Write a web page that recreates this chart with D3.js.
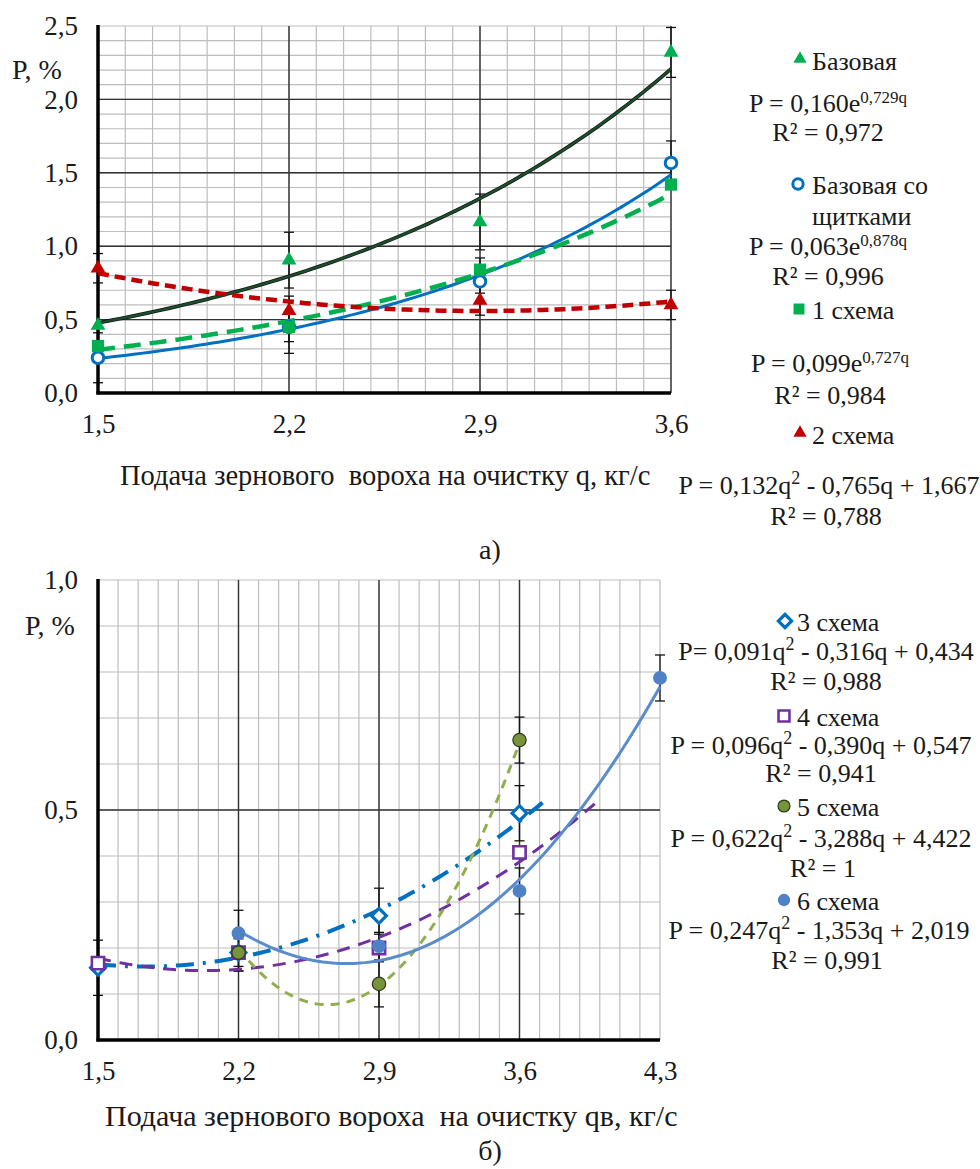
<!DOCTYPE html>
<html>
<head>
<meta charset="utf-8">
<script src="https://cdn.jsdelivr.net/npm/d3@7"></script>
<style>
  html, body { margin: 0; padding: 0; background: #fff; }
  svg, svg text { font-family: "Liberation Serif", "Times New Roman", serif; }
  svg text { fill: #1a1a1a; }
</style>
</head>
<body>
<svg id="chart" width="980" height="1169" font-family="Liberation Serif"></svg>
<script>
// ---------- Panel а): feed rate 1,5 … 3,6 kg/s ----------
const topFeed = [1.5, 2.2, 2.9, 3.6];
const topYTicks = [0, 0.5, 1.0, 1.5, 2.0, 2.5];

const baseVals    = [0.46, 0.905, 1.165, 2.32];
const shieldVals  = [0.24, 0.45, 0.76, 1.567];
const scheme1Vals = [0.32, 0.45, 0.84, 1.42];
const scheme2Vals = [0.85, 0.56, 0.63, 0.60];

const baseErr    = [0, 0.19, 0.19, 0.17];
const shieldErr  = [0.17, 0.18, 0.08, 0.15];
const scheme1Err = [0, 0.10, 0.08, 0];
const scheme2Err = [0.10, 0.10, 0.10, 0.10];

// trend equations: exponential a·e^(b·q) and quadratic a·q² + b·q + c
const baseTrend    = [0.160, 0.729];
const shieldTrend  = [0.063, 0.878];
const scheme1Trend = [0.099, 0.727];
const scheme2Trend = [0.132, -0.765, 1.667];

// ---------- Panel б): feed rate 1,5 … 4,3 kg/s ----------
const botFeed = [1.5, 2.2, 2.9, 3.6, 4.3];
const botYTicks = [0, 0.5, 1.0];

const scheme3Vals = [0.157, 0.19, 0.27, 0.493, null];
const scheme4Vals = [0.167, 0.19, 0.20, 0.408, null];
const scheme5Vals = [null, 0.19, 0.122, 0.652, null];
const scheme6Vals = [null, 0.232, 0.204, 0.324, 0.787];

const scheme3Err = [0.06, 0.04, 0.06, 0.06, null];
const scheme4Err = [0, 0.03, 0.03, 0, null];
const scheme5Err = [null, 0.04, 0.05, 0.05, null];
const scheme6Err = [null, 0.05, 0.03, 0.05, 0.05];

const scheme3Trend = [0.091, -0.316, 0.434];
const scheme4Trend = [0.096, -0.390, 0.547];
const scheme5Trend = [0.622, -3.288, 4.422];
const scheme6Trend = [0.247, -1.353, 2.019];

const scheme3Range = [1.5, 3.72];
const scheme4Range = [1.5, 4.0];
const scheme5Range = [2.2, 3.6];
const scheme6Range = [2.2, 4.3];

// ---------- helpers ----------
const svg = d3.select("#chart");
const fmt = v => d3.format(".1f")(v).replace(".", ",");
const expFn = c => q => c[0] * Math.exp(c[1] * q);
const quadFn = c => q => c[0] * q * q + c[1] * q + c[2];
const TICK_FS = 27;
const LEG_FS = 26;

function trendPoints(fn, from, to) {
  const n = 80, pts = [];
  for (let i = 0; i <= n; i++) { const q = from + (to - from) * i / n; pts.push([q, fn(q)]); }
  return pts;
}

function symbolPath(type, size) {
  return d3.symbol().type(type).size(size)();
}

function drawPanel(p) {
  const g = svg.append("g");
  const x = d3.scaleLinear().domain(p.xDomain).range(p.xRange);
  const y = d3.scaleLinear().domain(p.yDomain).range(p.yRange);

  // minor grid (every 0,1)
  const grid = g.append("g");
  const xMinor = d3.range(Math.round(p.xDomain[0] * 10), Math.round(p.xDomain[1] * 10) + 1).map(v => v / 10);
  const yMinor = d3.range(Math.round(p.yDomain[0] * 10), Math.round(p.yDomain[1] * 10) + 1).map(v => v / 10);
  grid.selectAll(".vx").data(xMinor).join("line")
    .attr("x1", d => x(d)).attr("x2", d => x(d))
    .attr("y1", y(p.yDomain[0])).attr("y2", y(p.yDomain[1]))
    .attr("stroke", "#bdbdbd").attr("stroke-width", 1.2);
  grid.selectAll(".hy").data(yMinor).join("line")
    .attr("x1", x(p.xDomain[0])).attr("x2", x(p.xDomain[1]))
    .attr("y1", d => y(d)).attr("y2", d => y(d))
    .attr("stroke", "#bdbdbd").attr("stroke-width", 1.2);
  // major grid
  grid.selectAll(".mx").data(p.xMajor).join("line")
    .attr("x1", d => x(d)).attr("x2", d => x(d))
    .attr("y1", y(p.yDomain[0])).attr("y2", y(p.yDomain[1]))
    .attr("stroke", "#333").attr("stroke-width", 1.4);
  grid.selectAll(".my").data(p.yMajor).join("line")
    .attr("x1", x(p.xDomain[0])).attr("x2", x(p.xDomain[1]))
    .attr("y1", d => y(d)).attr("y2", d => y(d))
    .attr("stroke", "#333").attr("stroke-width", 1.4);

  // error bars
  const eb = g.append("g").attr("stroke", "#111").attr("stroke-width", 1.3);
  p.series.forEach(s => {
    s.vals.forEach((v, i) => {
      const e = s.err[i];
      if (v == null || !e) return;
      const cx = x(p.feed[i]);
      const y0 = y(Math.min(v + e, p.yDomain[1])), y1 = y(v - e);
      eb.append("line").attr("x1", cx).attr("x2", cx).attr("y1", y0).attr("y2", y1);
      [v + e, v - e].forEach(t => {
        if (t > p.yDomain[1]) return;
        eb.append("line").attr("x1", cx - 5).attr("x2", cx + 5).attr("y1", y(t)).attr("y2", y(t));
      });
    });
  });

  // axis lines
  g.append("line").attr("x1", x(p.xDomain[0])).attr("x2", x(p.xDomain[0]))
    .attr("y1", y(p.yDomain[1]) - 1).attr("y2", y(p.yDomain[0]) + 1.5)
    .attr("stroke", "#000").attr("stroke-width", 3.5);
  g.append("line").attr("x1", x(p.xDomain[0]) - 1.5).attr("x2", x(p.xDomain[1]))
    .attr("y1", y(p.yDomain[0])).attr("y2", y(p.yDomain[0]))
    .attr("stroke", "#000").attr("stroke-width", 3.5);

  // trendlines
  const clipId = "clip" + p.id;
  g.append("clipPath").attr("id", clipId).append("rect")
    .attr("x", x(p.xDomain[0])).attr("y", y(p.yDomain[1]))
    .attr("width", x(p.xDomain[1]) - x(p.xDomain[0]) + 2)
    .attr("height", y(p.yDomain[0]) - y(p.yDomain[1]));
  const line = d3.line().x(d => x(d[0])).y(d => y(d[1])).curve(d3.curveLinear);
  const tl = g.append("g").attr("clip-path", `url(#${clipId})`);
  p.series.forEach(s => {
    if (s.trendUnder) {
      tl.append("path").attr("d", line(trendPoints(s.fn, s.range[0], s.range[1])))
        .attr("fill", "none").attr("stroke", s.trendUnder).attr("stroke-width", s.lw + 1.5);
    }
    tl.append("path").attr("d", line(trendPoints(s.fn, s.range[0], s.range[1])))
      .attr("fill", "none").attr("stroke", s.lineColor).attr("stroke-width", s.lw)
      .attr("stroke-dasharray", s.dash || null).attr("stroke-linecap", s.cap || "butt");
  });

  // markers
  const mk = g.append("g");
  p.series.forEach(s => {
    s.vals.forEach((v, i) => {
      if (v == null) return;
      drawMarker(mk, s, x(p.feed[i]), y(v));
    });
  });

  // tick labels through d3 axes
  const ax = g.append("g").attr("transform", `translate(${x(p.xDomain[0])},0)`)
    .call(d3.axisLeft(y).tickValues(p.yTicks).tickFormat(fmt).tickSize(0).tickPadding(20));
  ax.attr("font-family", null);
  ax.select(".domain").remove();
  ax.selectAll("text").attr("font-size", TICK_FS).attr("fill", "#1a1a1a");
  const bx = g.append("g").attr("transform", `translate(0,${y(p.yDomain[0])})`)
    .call(d3.axisBottom(x).tickValues(p.xTicks).tickFormat(fmt).tickSize(0).tickPadding(p.xPad));
  bx.attr("font-family", null);
  bx.select(".domain").remove();
  bx.selectAll("text").attr("font-size", TICK_FS).attr("fill", "#1a1a1a");

  g.append("text").attr("x", p.yLabel[0]).attr("y", p.yLabel[1]).attr("font-size", 28).text("P, %");
  g.append("text").attr("x", p.xLabel[0]).attr("y", p.xLabel[1]).attr("font-size", p.titleFs)
    .style("white-space", "pre").text(p.xTitle);
  g.append("text").attr("x", p.panelLabel[0]).attr("y", p.panelLabel[1]).attr("font-size", 28)
    .attr("text-anchor", "middle").text(p.panelName);
}

function drawMarker(parent, s, cx, cy, scale = 1) {
  const t = `translate(${cx},${cy})` + (s.rotate ? ` rotate(${s.rotate})` : "");
  parent.append("path")
    .attr("d", symbolPath(s.symbol, s.size * scale))
    .attr("transform", t)
    .attr("fill", s.fill)
    .attr("stroke", s.stroke || "none")
    .attr("stroke-width", s.sw || 0);
}

// ---------- series definitions ----------
const topSeries = [
  { name: "Базовая", vals: baseVals, err: baseErr, fn: expFn(baseTrend), range: [1.5, 3.6],
    symbol: d3.symbolTriangle, size: 95, fill: "#00b050", lineColor: "#1f4d30", trendUnder: "#0e1a12", lw: 2.2 },
  { name: "Базовая со щитками", vals: shieldVals, err: shieldErr, fn: expFn(shieldTrend), range: [1.5, 3.6],
    symbol: d3.symbolCircle, size: 105, fill: "#fff", stroke: "#0070c0", sw: 3, lineColor: "#0070c0", lw: 3 },
  { name: "1 схема", vals: scheme1Vals, err: scheme1Err, fn: expFn(scheme1Trend), range: [1.5, 3.6],
    symbol: d3.symbolSquare, size: 150, fill: "#00b050", lineColor: "#00b050", lw: 4.5, dash: "17,9" },
  { name: "2 схема", vals: scheme2Vals, err: scheme2Err, fn: quadFn(scheme2Trend), range: [1.5, 3.6],
    symbol: d3.symbolTriangle, size: 95, fill: "#c00000", lineColor: "#c00000", lw: 4.5, dash: "11,6" }
];

const botSeries = [
  { name: "3 схема", vals: scheme3Vals, err: scheme3Err, fn: quadFn(scheme3Trend), range: scheme3Range,
    symbol: d3.symbolSquare, rotate: 45, size: 110, fill: "#fff", stroke: "#0070c0", sw: 3.2,
    lineColor: "#0070c0", lw: 4, dash: "18,9,3,9" },
  { name: "4 схема", vals: scheme4Vals, err: scheme4Err, fn: quadFn(scheme4Trend), range: scheme4Range,
    symbol: d3.symbolSquare, size: 150, fill: "#fff", stroke: "#7030a0", sw: 2.6,
    lineColor: "#7030a0", lw: 3, dash: "13,9" },
  { name: "5 схема", vals: scheme5Vals, err: scheme5Err, fn: quadFn(scheme5Trend), range: scheme5Range,
    symbol: d3.symbolCircle, size: 140, fill: "#77933c", stroke: "#2f3a18", sw: 1.2,
    lineColor: "#8fae4e", lw: 3, dash: "9,7" },
  { name: "6 схема", vals: scheme6Vals, err: scheme6Err, fn: quadFn(scheme6Trend), range: scheme6Range,
    symbol: d3.symbolCircle, size: 150, fill: "#4f81c7", lineColor: "#5a8ccb", lw: 3 }
];

drawPanel({
  id: "a", feed: topFeed, series: topSeries,
  xDomain: [1.5, 3.6], xRange: [98, 671], yDomain: [0, 2.5], yRange: [393, 26],
  xMajor: [2.2, 2.9, 3.6], yMajor: [0.5, 1.0, 1.5, 2.0],
  xTicks: topFeed, yTicks: topYTicks, xPad: 21,
  yLabel: [12, 79], xLabel: [120, 485], titleFs: 28.5,
  xTitle: "Подача зернового  вороха на очистку q, кг/с",
  panelLabel: [490, 559], panelName: "а)"
});

drawPanel({
  id: "b", feed: botFeed, series: botSeries,
  xDomain: [1.5, 4.3], xRange: [98, 660], yDomain: [0, 1.0], yRange: [1040, 580],
  xMajor: [2.2, 2.9, 3.6], yMajor: [0.5],
  xTicks: botFeed, yTicks: botYTicks, xPad: 21,
  yLabel: [25, 635], xLabel: [105, 1126], titleFs: 30,
  xTitle: "Подача зернового вороха  на очистку qв, кг/с",
  panelLabel: [490, 1160], panelName: "б)"
});

// ---------- legends ----------
function legendEntry(s, mx, my, lines, tx) {
  const lg = svg.append("g");
  drawMarker(lg, s, mx, my, 0.8);
  lines.forEach(ln => {
    lg.append("text").attr("x", tx).attr("y", ln[1]).attr("font-size", LEG_FS).text(ln[0]);
  });
}

// equation text: strings are normal runs, {sup} entries are raised small runs
function equation(cx, baseline, parts) {
  const t = svg.append("text").attr("x", cx).attr("y", baseline)
    .attr("font-size", LEG_FS).attr("text-anchor", "middle")
    .style("white-space", "pre");
  let pendingDy = 0;
  parts.forEach(p => {
    if (typeof p === "string") {
      const ts = t.append("tspan").text(p);
      if (pendingDy) { ts.attr("dy", pendingDy); pendingDy = 0; }
    } else {
      t.append("tspan").attr("font-size", p.fs || 17).attr("dy", -p.up).text(p.sup);
      pendingDy = p.up;
    }
  });
  return t;
}
function rsq(cx, baseline, txt) {
  svg.append("text").attr("x", cx).attr("y", baseline).attr("font-size", LEG_FS)
    .attr("text-anchor", "middle").text(txt);
}

// top legend
legendEntry(topSeries[0], 800, 59, [["Базовая", 70]], 812);
equation(828, 112, ["P = 0,160e", { sup: "0,729q", up: 9 }]);
rsq(828, 141, "R² = 0,972");
legendEntry(topSeries[1], 798, 184, [["Базовая со", 194], ["щитками", 225]], 812);
equation(828, 255, ["P = 0,063e", { sup: "0,878q", up: 9 }]);
rsq(828, 285, "R² = 0,996");
legendEntry(topSeries[2], 799, 309, [["1 схема", 319]], 812);
equation(830, 372, ["P = 0,099e", { sup: "0,727q", up: 9 }]);
rsq(830, 404, "R² = 0,984");
legendEntry(topSeries[3], 800, 433, [["2 схема", 444]], 812);
equation(829, 494, ["P = 0,132q", { sup: "2", up: 10, fs: 18 }, " - 0,765q + 1,667"]);
rsq(826, 525, "R² = 0,788");

// bottom legend
legendEntry(botSeries[0], 785, 621, [["3 схема", 631]], 797);
equation(826, 660, ["P= 0,091q", { sup: "2", up: 10, fs: 18 }, " - 0,316q + 0,434"]);
rsq(826, 690, "R² = 0,988");
legendEntry(botSeries[1], 784, 716, [["4 схема", 726]], 797);
equation(821, 754, ["P = 0,096q", { sup: "2", up: 10, fs: 18 }, " - 0,390q + 0,547"]);
rsq(821, 782, "R² = 0,941");
legendEntry(botSeries[2], 784, 806, [["5 схема", 816]], 797);
equation(821, 847, ["P = 0,622q", { sup: "2", up: 10, fs: 18 }, " - 3,288q + 4,422"]);
rsq(823, 877, "R² = 1");
legendEntry(botSeries[3], 784, 900, [["6 схема", 910]], 797);
equation(819, 939, ["P = 0,247q", { sup: "2", up: 10, fs: 18 }, " - 1,353q + 2,019"]);
rsq(827, 969, "R² = 0,991");
</script>
</body>
</html>
